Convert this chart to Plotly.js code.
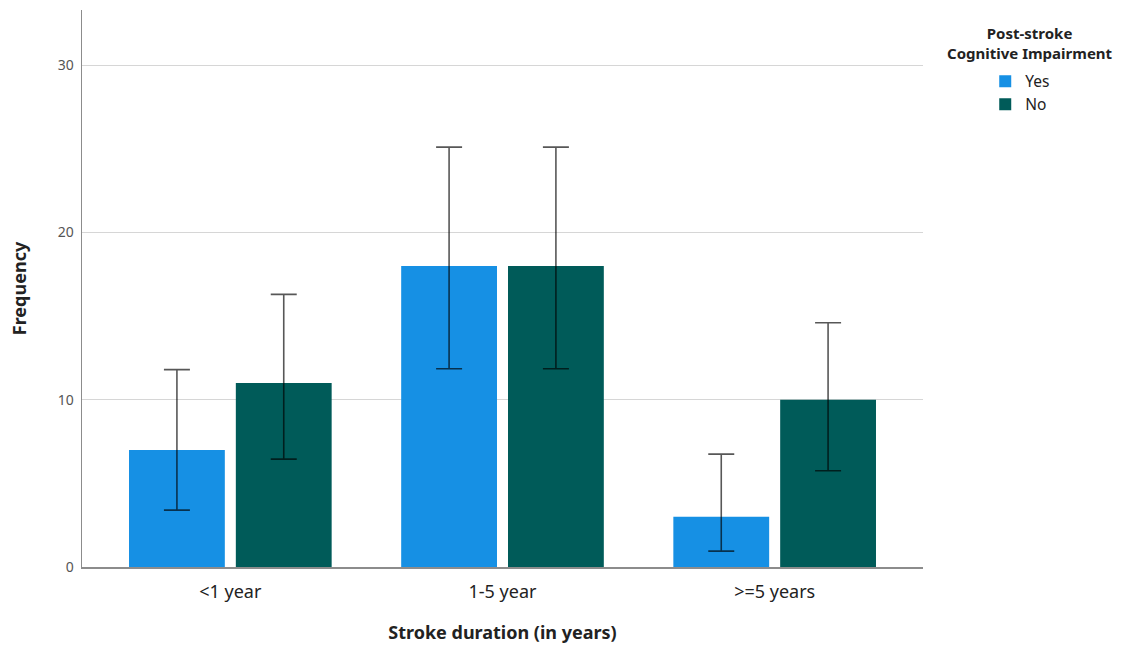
<!DOCTYPE html>
<html>
<head>
<meta charset="utf-8">
<script src="https://cdn.plot.ly/plotly-3.0.1.min.js"></script>
<style>html,body{margin:0;padding:0;background:#fff;}#chart{width:1128px;height:650px;}</style>
</head>
<body>
<div id="chart"></div>
<script>
const categories = ["<1 year", "1-5 year", ">=5 years"];
const seriesNames = ["Yes", "No"];
const yesValues = [7, 18, 3];
const yesUpper = [11.8, 25.1, 6.75];
const yesLower = [3.4, 11.85, 0.95];
const noValues = [11, 18, 10];
const noUpper = [16.3, 25.1, 14.6];
const noLower = [6.45, 11.85, 5.75];
const yTicks = [0, 10, 20, 30];
const legendTitle = "Post-stroke<br>Cognitive Impairment";

function errs(vals, up, lo) {
  return {
    type: 'data', symmetric: false,
    array: vals.map((v, i) => +(up[i] - v).toFixed(3)),
    arrayminus: vals.map((v, i) => +(v - lo[i]).toFixed(3)),
    color: 'rgba(0,0,0,0.66)', thickness: 1.6, width: 13
  };
}

const traces = [
  {type: 'bar', name: seriesNames[0], x: categories, y: yesValues,
   marker: {color: '#1690e4', line: {width: 0}}, error_y: errs(yesValues, yesUpper, yesLower)},
  {type: 'bar', name: seriesNames[1], x: categories, y: noValues,
   marker: {color: '#005b59', line: {width: 0}}, error_y: errs(noValues, noUpper, noLower)}
];

const layout = {
  width: 1128, height: 650,
  margin: {l: 82, r: 205, t: 10, b: 83},
  paper_bgcolor: '#fff', plot_bgcolor: '#fff',
  font: {family: 'Noto Sans, DejaVu Sans, sans-serif', color: '#222'},
  barmode: 'group', bargap: 0.215, bargroupgap: 0.103,
  showlegend: true,
  xaxis: {
    type: 'category', range: [-0.545, 2.545],
    showline: true, linecolor: '#8c8c8c', linewidth: 1.5,
    ticks: '', showgrid: false, zeroline: false,
    tickfont: {size: 18, color: '#222'}, ticklabelstandoff: 8,
    title: {text: '<b>Stroke duration (in years)</b>', font: {size: 18, color: '#222'}, standoff: 24}
  },
  yaxis: {
    range: [0, 33.3], tickvals: yTicks, ticktext: yTicks.map(String),
    showline: true, linecolor: '#8c8c8c', linewidth: 1.5,
    showgrid: true, gridcolor: '#d6d6d6', gridwidth: 1.2,
    zeroline: false, ticks: '', ticklen: 0,
    tickfont: {size: 14, color: '#555'}, ticklabelstandoff: 4,
    title: {text: '<b>Frequency</b>', font: {size: 18, color: '#222'}, standoff: 26}
  },
  legend: {
    x: 1.074, y: 0.902, xanchor: 'left', yanchor: 'top',
    bgcolor: 'rgba(0,0,0,0)', tracegroupgap: 0, itemwidth: 30,
    font: {size: 15.5, color: '#222'}
  },
  annotations: [{
    xref: 'paper', yref: 'paper', x: 1.127, y: 0.98,
    xanchor: 'center', yanchor: 'top', align: 'center',
    showarrow: false, text: '<b>' + legendTitle + '</b>',
    font: {size: 15, color: '#222'}
  }]
};

Plotly.newPlot('chart', traces, layout, {displayModeBar: false, staticPlot: true});
</script>
</body>
</html>
